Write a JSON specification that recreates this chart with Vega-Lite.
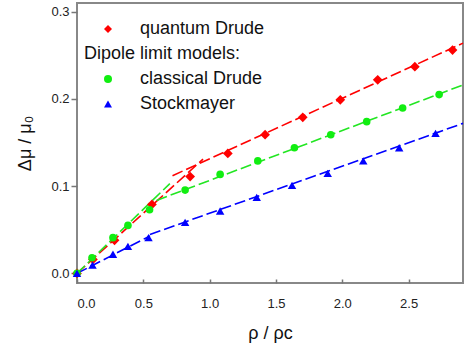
{
  "$schema": "https://vega.github.io/schema/vega-lite/v6.json",
  "autosize": "none",
  "padding": {"left": 77, "top": 3, "right": 6, "bottom": 65},
  "width": 386,
  "height": 280,
  "background": "white",
  "config": {
    "font": "Liberation Sans",
    "view": {"stroke": "#888888", "strokeWidth": 2},
    "axis": {"domain": false, "grid": false, "labelFont": "Liberation Sans", "titleFont": "Liberation Sans", "labelColor": "#222", "titleColor": "#111", "labelFontSize": 13, "titleFontSize": 18, "titleFontWeight": "normal", "tickColor": "#777", "tickWidth": 1.5}
  },
  "datasets": {
    "pts": [
      {"s": "quantum Drude", "rho": 0.0, "v": 0.0},
      {"s": "quantum Drude", "rho": 0.12, "v": 0.016},
      {"s": "quantum Drude", "rho": 0.283, "v": 0.038},
      {"s": "quantum Drude", "rho": 0.565, "v": 0.079},
      {"s": "quantum Drude", "rho": 0.853, "v": 0.111},
      {"s": "quantum Drude", "rho": 1.137, "v": 0.1376},
      {"s": "quantum Drude", "rho": 1.418, "v": 0.159},
      {"s": "quantum Drude", "rho": 1.702, "v": 0.179},
      {"s": "quantum Drude", "rho": 1.985, "v": 0.199},
      {"s": "quantum Drude", "rho": 2.267, "v": 0.222},
      {"s": "quantum Drude", "rho": 2.547, "v": 0.237},
      {"s": "quantum Drude", "rho": 2.831, "v": 0.256},
      {"s": "classical Drude", "rho": 0.0, "v": 0.0},
      {"s": "classical Drude", "rho": 0.113, "v": 0.018},
      {"s": "classical Drude", "rho": 0.271, "v": 0.041},
      {"s": "classical Drude", "rho": 0.384, "v": 0.055},
      {"s": "classical Drude", "rho": 0.547, "v": 0.073},
      {"s": "classical Drude", "rho": 0.815, "v": 0.0955},
      {"s": "classical Drude", "rho": 1.079, "v": 0.1135},
      {"s": "classical Drude", "rho": 1.363, "v": 0.129},
      {"s": "classical Drude", "rho": 1.639, "v": 0.144},
      {"s": "classical Drude", "rho": 1.913, "v": 0.159},
      {"s": "classical Drude", "rho": 2.184, "v": 0.174},
      {"s": "classical Drude", "rho": 2.455, "v": 0.1896},
      {"s": "classical Drude", "rho": 2.73, "v": 0.205},
      {"s": "Stockmayer", "rho": 0.0, "v": 0.0},
      {"s": "Stockmayer", "rho": 0.117, "v": 0.0095},
      {"s": "Stockmayer", "rho": 0.271, "v": 0.022},
      {"s": "Stockmayer", "rho": 0.384, "v": 0.031},
      {"s": "Stockmayer", "rho": 0.539, "v": 0.041},
      {"s": "Stockmayer", "rho": 0.815, "v": 0.0585},
      {"s": "Stockmayer", "rho": 1.079, "v": 0.0715},
      {"s": "Stockmayer", "rho": 1.355, "v": 0.0872},
      {"s": "Stockmayer", "rho": 1.621, "v": 0.101},
      {"s": "Stockmayer", "rho": 1.89, "v": 0.1147},
      {"s": "Stockmayer", "rho": 2.158, "v": 0.129},
      {"s": "Stockmayer", "rho": 2.429, "v": 0.144},
      {"s": "Stockmayer", "rho": 2.703, "v": 0.1606}
    ],
    "fits": [
      {"s": "quantum Drude", "seg": "q-low", "rho": 0.0, "v": 0.0},
      {"s": "quantum Drude", "seg": "q-low", "rho": 0.95, "v": 0.131},
      {"s": "quantum Drude", "seg": "q-high", "rho": 0.72, "v": 0.112},
      {"s": "quantum Drude", "seg": "q-high", "rho": 2.91, "v": 0.264},
      {"s": "classical Drude", "seg": "c-low", "rho": 0.0, "v": 0.0},
      {"s": "classical Drude", "seg": "c-low", "rho": 0.7, "v": 0.103},
      {"s": "classical Drude", "seg": "c-high", "rho": 0.6, "v": 0.0837},
      {"s": "classical Drude", "seg": "c-high", "rho": 2.91, "v": 0.216},
      {"s": "Stockmayer", "seg": "s-low", "rho": 0.0, "v": 0.0},
      {"s": "Stockmayer", "seg": "s-low", "rho": 0.55, "v": 0.043},
      {"s": "Stockmayer", "seg": "s-high", "rho": 0.55, "v": 0.0447},
      {"s": "Stockmayer", "seg": "s-high", "rho": 2.91, "v": 0.172}
    ]
  },
  "encoding": {
    "x": {"field": "rho", "type": "quantitative",
      "scale": {"domain": [0, 2.91], "nice": false, "zero": false},
      "axis": {"title": "ρ / ρc", "values": [0, 0.5, 1, 1.5, 2, 2.5], "format": ".1f", "tickSize": -4, "labelPadding": 18, "titlePadding": 14}},
    "y": {"field": "v", "type": "quantitative",
      "scale": {"domain": [-0.011, 0.31], "nice": false, "zero": false},
      "axis": {"title": "Δμ / μ₀", "values": [0, 0.1, 0.2, 0.3], "format": ".1f", "tickSize": 6, "labelPadding": 2, "titlePadding": 16}}
  },
  "layer": [
    {
      "data": {"name": "fits"},
      "mark": {"type": "line", "strokeWidth": 1.6, "strokeDash": [11, 4]},
      "encoding": {
        "detail": {"field": "seg"},
        "stroke": {"field": "s", "type": "nominal",
          "scale": {"domain": ["quantum Drude", "classical Drude", "Stockmayer"], "range": ["#ff0000", "#22e622", "#0000ff"]},
          "legend": null}
      }
    },
    {
      "data": {"name": "pts"},
      "mark": {"type": "point", "filled": true, "opacity": 1, "strokeWidth": 0},
      "encoding": {
        "size": {"field": "s", "type": "nominal",
          "scale": {"type": "ordinal", "domain": ["quantum Drude", "classical Drude", "Stockmayer"], "range": [95, 58, 72]},
          "legend": null},
        "color": {"field": "s", "type": "nominal",
          "scale": {"domain": ["quantum Drude", "Dipole limit models:", "classical Drude", "Stockmayer"], "range": ["#ff0000", "transparent", "#11ee11", "#0000ff"]},
          "legend": {"orient": "none", "legendX": 22, "legendY": 17, "title": null, "padding": 0, "labelFont": "Liberation Sans", "labelFontSize": 18, "labelColor": "#111", "symbolSize": 64, "symbolStrokeWidth": 0, "symbolOpacity": 1, "rowPadding": 7, "labelOffset": 23,
            "encode": {"labels": {"update": {"dx": {"signal": "datum.label === 'Dipole limit models:' ? -56 : 0"}}}}}},
        "shape": {"field": "s", "type": "nominal",
          "scale": {"domain": ["quantum Drude", "Dipole limit models:", "classical Drude", "Stockmayer"], "range": ["diamond", "circle", "circle", "triangle-up"]},
          "legend": {"orient": "none", "legendX": 22, "legendY": 17, "title": null, "padding": 0, "labelFont": "Liberation Sans", "labelFontSize": 18, "labelColor": "#111", "symbolSize": 64, "symbolStrokeWidth": 0, "symbolOpacity": 1, "rowPadding": 7, "labelOffset": 23,
            "encode": {"labels": {"update": {"dx": {"signal": "datum.label === 'Dipole limit models:' ? -56 : 0"}}}}}}
      }
    }
  ]
}
